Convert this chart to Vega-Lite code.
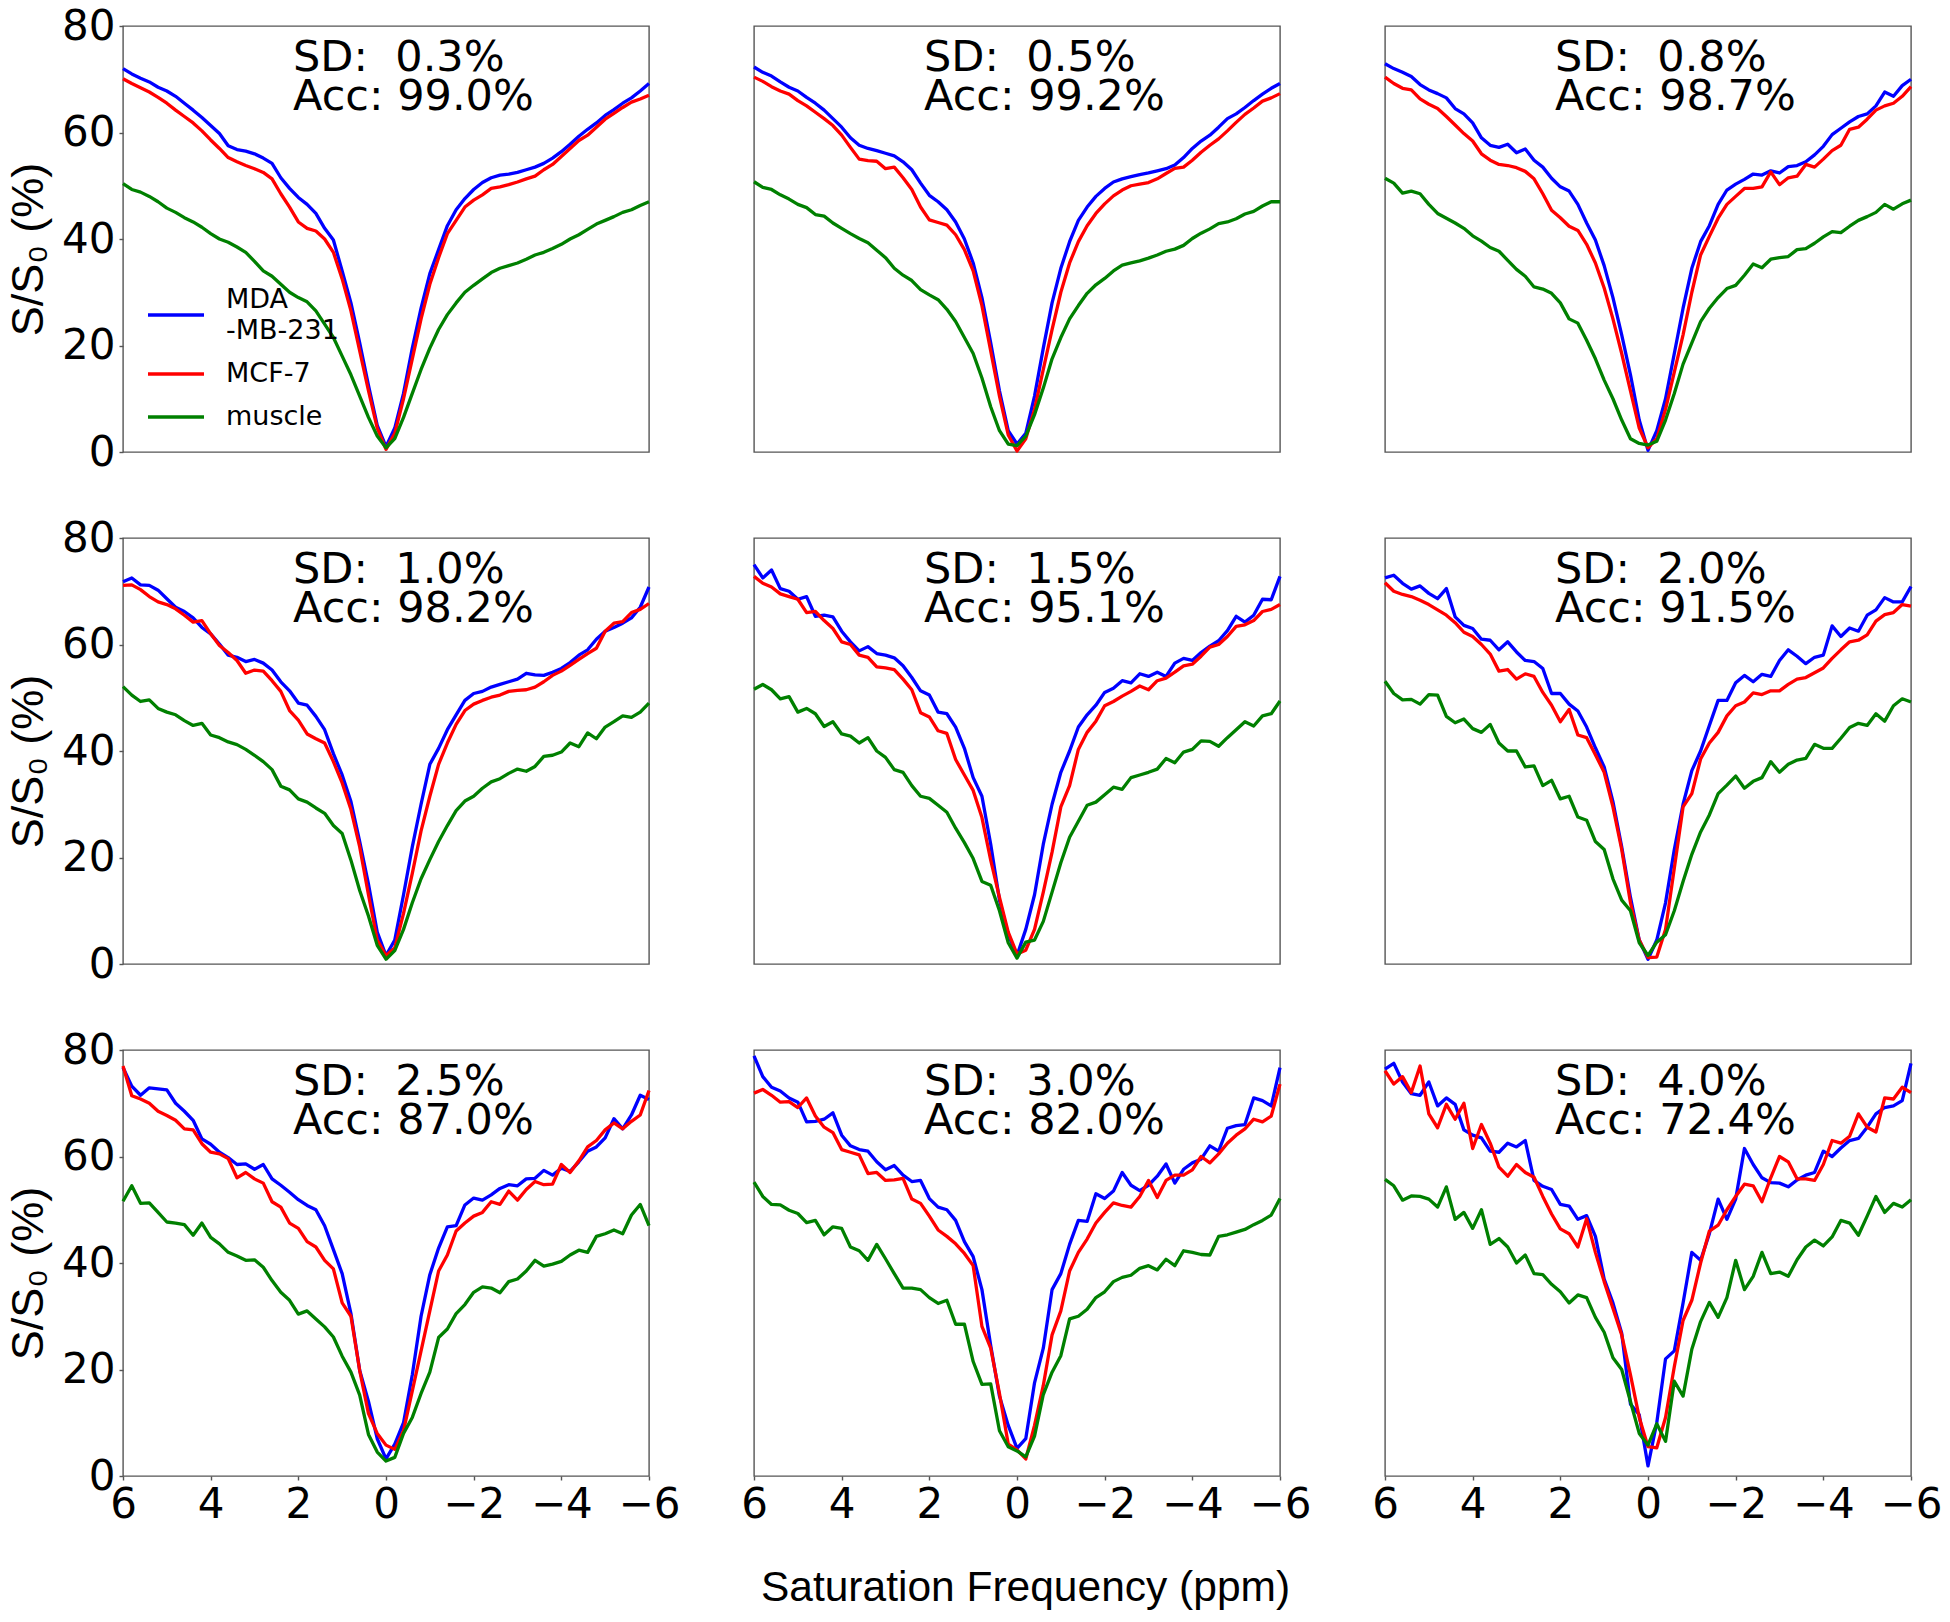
{
"$schema": "https://vega.github.io/schema/vega-lite/v6.json",
"background": "white",
"padding": {"left": 6, "top": 4, "right": 5, "bottom": 5},
"datasets": {
"curves": [
{"p":1,"x":[6,5.8,5.6,5.4,5.2,5,4.8,4.6,4.4,4.2,4,3.8,3.6,3.4,3.2,3,2.8,2.6,2.4,2.2,2,1.8,1.6,1.4,1.2,1,0.8,0.6,0.4,0.2,0,-0.2,-0.4,-0.6,-0.8,-1,-1.2,-1.4,-1.6,-1.8,-2,-2.2,-2.4,-2.6,-2.8,-3,-3.2,-3.4,-3.6,-3.8,-4,-4.2,-4.4,-4.6,-4.8,-5,-5.2,-5.4,-5.6,-5.8,-6],
"b":[72,71,70.2,69.5,68.5,67.8,66.8,65.5,64.2,62.8,61.3,59.8,57.5,56.8,56.5,56,55.2,54.2,51.5,49.5,47.8,46.5,44.8,42,39.8,34,28,20.5,12.5,5,1,4.5,11,19.5,27,33.5,38,42.5,45.5,47.6,49.3,50.6,51.5,52,52.2,52.5,53,53.5,54.2,55.2,56.4,57.8,59.3,60.6,61.8,63.2,64.3,65.5,66.5,67.8,69.2],
"r":[70.1,69.2,68.4,67.6,66.6,65.5,64.2,63,61.8,60.3,58.6,57,55.3,54.5,53.8,53.2,52.5,51.3,48.5,46,43.2,42,41.5,40,37.5,32.5,26.5,19,11.5,4.5,0.5,3.5,10,17.5,25,31.5,36.5,41,43.5,46,47.3,48.3,49.5,49.8,50.2,50.7,51.3,51.8,53,54,55.5,57,58.5,59.5,61,62.5,63.6,64.7,65.7,66.3,67],
"g":[50.4,49.3,48.8,48,47,45.8,45,44,43.2,42.2,41,40,39.4,38.5,37.5,35.8,34,33,31.5,30,29,28.2,26.5,24,21.5,18,14.5,10.5,6.5,3,0.8,2.5,6.5,11,15.5,19.5,23,25.8,28,30,31.3,32.5,33.7,34.5,35,35.5,36.2,37,37.5,38.2,39,40,40.8,41.8,42.8,43.5,44.2,45,45.5,46.3,47]},
{"p":2,"x":[6,5.8,5.6,5.4,5.2,5,4.8,4.6,4.4,4.2,4,3.8,3.6,3.4,3.2,3,2.8,2.6,2.4,2.2,2,1.8,1.6,1.4,1.2,1,0.8,0.6,0.4,0.2,0,-0.2,-0.4,-0.6,-0.8,-1,-1.2,-1.4,-1.6,-1.8,-2,-2.2,-2.4,-2.6,-2.8,-3,-3.2,-3.4,-3.6,-3.8,-4,-4.2,-4.4,-4.6,-4.8,-5,-5.2,-5.4,-5.6,-5.8,-6],
"b":[72.3,71.3,70.6,69.5,68.5,67.8,66.6,65.5,64.2,62.6,61,59,57.6,57,56.6,56.1,55.6,54.5,53,50.5,48.2,47,45.5,43.2,40,35.5,29,20.5,11.5,4,1.5,3.5,10.5,19.5,28,34.5,39.5,43.5,46,48,49.5,50.7,51.3,51.7,52.1,52.4,52.8,53.2,53.9,55.3,57,58.4,59.5,61,62.6,63.5,64.7,66,67.2,68.3,69.2],
"r":[70.4,69.6,68.6,67.8,67.2,66,65,63.8,62.6,61.3,59.5,57.2,55,54.7,54.6,53.2,53.5,51.5,49.3,46,43.6,43.1,42.6,40.8,38,34,27.5,19,10.5,3.2,0.2,2.5,8,15.5,23,30,35.5,39.5,42.5,44.8,46.6,48.1,49.2,50,50.3,50.6,51.3,52.3,53.25,53.5,54.8,56.3,57.6,58.8,60.3,61.9,63.4,64.6,65.9,66.5,67.3],
"g":[50.75,49.7,49.3,48.3,47.5,46.5,45.9,44.6,44.3,43,42,41,40.1,39.3,37.9,36.5,34.5,33.2,32.2,30.5,29.5,28.6,26.8,24.5,21.5,18.5,13.9,8.5,4,1.5,1.2,3,7,12,17.5,21.5,25,27.5,29.8,31.4,32.6,34,35.1,35.5,35.9,36.4,37,37.7,38.1,38.8,40.1,41.1,41.9,42.9,43.2,43.8,44.7,45.2,46.2,47,47]},
{"p":3,"x":[6,5.8,5.6,5.4,5.2,5,4.8,4.6,4.4,4.2,4,3.8,3.6,3.4,3.2,3,2.8,2.6,2.4,2.2,2,1.8,1.6,1.4,1.2,1,0.8,0.6,0.4,0.2,0,-0.2,-0.4,-0.6,-0.8,-1,-1.2,-1.4,-1.6,-1.8,-2,-2.2,-2.4,-2.6,-2.8,-3,-3.2,-3.4,-3.6,-3.8,-4,-4.2,-4.4,-4.6,-4.8,-5,-5.2,-5.4,-5.6,-5.8,-6],
"b":[72.9,72,71.3,70.5,69,68,67.3,66.5,64.5,63.5,61.8,59,57.6,57.2,57.8,56.2,56.9,54.8,53.5,51.4,49.8,49,46.5,43,39.8,35,29,22,14.5,6,0.3,4,10,18.5,27,34.5,39.5,42.5,46.5,49.2,50.3,51.2,52.2,52,52.8,52.4,53.6,53.8,54.5,55.8,57.4,59.6,60.8,62,63,63.5,65,67.6,66.8,68.8,70],
"r":[70.4,69.2,68.3,68,66.3,65.3,64.5,63,61.4,59.8,58.4,56,54.8,54,53.8,53.4,52.7,51.3,48.5,45.4,44,42.4,41.6,39,35.5,30.8,25,18.5,11.5,4.5,0.8,2.5,8,15,22,30,37,40.5,43.9,46.5,48,49.5,49.5,49.8,52.6,50.2,51.5,51.8,54,53.5,55,56.6,57.6,60.6,61,62.5,64.2,65,65.5,66.8,68.6],
"g":[51.4,50.5,48.6,49,48.5,46.5,44.8,43.9,43,42,40.6,39.6,38.4,37.7,36,34.3,33,31,30.6,29.8,28,25,24.2,21,17.5,13.5,10,6,2.5,1.6,1.3,2,6,11,16.5,20.5,24.5,27,29,30.7,31.3,33.2,35.3,34.6,36.2,36.5,36.7,38,38.2,39.2,40.4,41.4,41.2,42.4,43.5,44.2,45,46.5,45.6,46.6,47.3]},
{"p":4,"x":[6,5.8,5.6,5.4,5.2,5,4.8,4.6,4.4,4.2,4,3.8,3.6,3.4,3.2,3,2.8,2.6,2.4,2.2,2,1.8,1.6,1.4,1.2,1,0.8,0.6,0.4,0.2,0,-0.2,-0.4,-0.6,-0.8,-1,-1.2,-1.4,-1.6,-1.8,-2,-2.2,-2.4,-2.6,-2.8,-3,-3.2,-3.4,-3.6,-3.8,-4,-4.2,-4.4,-4.6,-4.8,-5,-5.2,-5.4,-5.6,-5.8,-6],
"b":[71.8,72.5,71.2,71.1,70.2,68.6,67,66.2,65,63.2,62,60.1,58,57.6,56.8,57.2,56.5,55.2,53,51.3,49,48.6,46.5,44,39.5,35.5,30.5,23,15,6,1.6,4.5,13,22,30,37.5,40.5,44,46.8,49.5,50.8,51.2,52,52.5,53,53.5,54.6,54.3,54.2,54.8,55.5,56.6,58,59,61,62.5,63.2,64,65,67,70.8],
"r":[71.1,71.2,70.3,69,68,67.5,66.7,65.5,64.2,64.5,62,59.8,58.5,57,54.6,55.2,55,53.2,51.2,47.6,45.8,43.2,42.3,41.5,38,34,29,22,13,4.5,1.6,3,9.5,17,25,31.5,37.5,41.5,45,47.6,48.8,49.5,50.1,50.5,51.2,51.4,51.5,52,53,54.2,55,56.1,57.2,58.3,59.3,62.5,64,64.3,66,66.6,67.7],
"g":[52.1,50.5,49.3,49.6,48,47.3,46.8,45.7,44.8,45.2,43,42.5,41.7,41.2,40.3,39.2,38,36.5,33.4,32.7,31,30.4,29.3,28.3,26,24.5,19.5,13.8,9,3.5,0.9,2.5,6.5,11.5,16,19.6,23,26,28.8,30.6,31.5,33,34.2,34.8,35.8,36.6,36.2,37.1,39,39.2,39.8,41.5,40.8,43.4,42.3,44.5,45.5,46.6,46.3,47.3,49]},
{"p":5,"x":[6,5.8,5.6,5.4,5.2,5,4.8,4.6,4.4,4.2,4,3.8,3.6,3.4,3.2,3,2.8,2.6,2.4,2.2,2,1.8,1.6,1.4,1.2,1,0.8,0.6,0.4,0.2,0,-0.2,-0.4,-0.6,-0.8,-1,-1.2,-1.4,-1.6,-1.8,-2,-2.2,-2.4,-2.6,-2.8,-3,-3.2,-3.4,-3.6,-3.8,-4,-4.2,-4.4,-4.6,-4.8,-5,-5.2,-5.4,-5.6,-5.8,-6],
"b":[75,72.5,74,70.5,70,68.5,69,65.3,65.5,65.2,62.5,60.5,58.8,59.6,58.3,58,57.5,56,53.8,51.3,50.5,47.3,47,44.5,40.5,35,31.5,22.5,12,5.5,1.6,6.5,13,22.5,30,36,40,44.5,46.8,48.6,51,51.8,53.2,52.8,54.5,54,54.8,54,56.5,57.4,57,58.5,59.7,60.7,62.6,65.3,64.2,65.5,68.5,68.4,72.8],
"r":[72.8,71.5,70.8,69.5,69,68.5,66,66.2,64.5,63,60.5,60,58,57.6,55.8,55.6,55.3,53.5,51.5,47.2,46.4,43.8,43.3,38.4,35.5,32.6,27.5,19.5,12.5,6,1.9,2.6,6.5,13.5,21,29.5,33.5,40.3,43.5,45.6,48.5,49.3,50.3,51.2,52.2,51.5,53.2,53.7,54.8,56,56.3,57.8,59.5,60,61.5,63.4,63.7,64.5,66.2,66.6,67.5],
"g":[51.6,52.5,51.5,49.8,50.2,47.3,48,47,44.6,45.5,43.2,42.8,41.5,42.5,40,38.8,36.5,36,33.5,31.5,31.1,29.8,28.5,25.5,22.8,19.8,15.5,14.8,10,4,1.1,4.1,4.5,8,13.5,19,23.8,26.8,29.8,30.4,31.8,33.2,32.8,35,35.5,36,36.6,38.6,37.8,39.8,40.3,41.9,41.8,40.9,42.5,44,45.5,44.7,46.6,47,49.4]},
{"p":6,"x":[6,5.8,5.6,5.4,5.2,5,4.8,4.6,4.4,4.2,4,3.8,3.6,3.4,3.2,3,2.8,2.6,2.4,2.2,2,1.8,1.6,1.4,1.2,1,0.8,0.6,0.4,0.2,0,-0.2,-0.4,-0.6,-0.8,-1,-1.2,-1.4,-1.6,-1.8,-2,-2.2,-2.4,-2.6,-2.8,-3,-3.2,-3.4,-3.6,-3.8,-4,-4.2,-4.4,-4.6,-4.8,-5,-5.2,-5.4,-5.6,-5.8,-6],
"b":[72.5,73,71.5,70.4,71,69.6,68.6,70.5,65.2,63.6,63,61,60.8,59,60.5,58.6,57,56.8,55.5,50.8,50.8,48.8,47.5,44.5,40.6,37,30.5,22,12.5,4.5,0.9,4.5,11.5,21.5,30,36.3,40,44.8,49.5,49.5,52.8,54.2,53,54.4,54,57,59,57.8,56.4,57.6,58,63.5,61.5,63.1,62.5,65.5,66.5,68.8,68,68,70.9],
"r":[71.6,70,69.4,69,68.3,67.5,66.5,65.5,64.1,62.3,61.5,60,58.2,55,55.3,53.5,54.5,54,51,48.6,45.5,47.8,43,42.5,39.3,36,29.5,21.5,11.5,4.5,1.2,1.3,6.5,18,29.5,32,38.5,41.5,43.5,46.6,48.5,49.2,50.9,50.6,51.3,51.3,52.5,53.5,53.8,54.7,55.6,57.4,59,60.5,60.8,61.8,64.4,65.6,66,67.5,67.2],
"g":[53.1,50.8,49.6,49.7,48.8,50.6,50.5,46.5,45.3,46,44.2,43.5,45,41.5,40,40,37,37.2,33.5,34.5,31,31.5,27.6,27,23,21.5,16,12,10,4,1.6,4.1,5.5,10,15.5,20.6,24.8,28,32,33.6,35.3,33,34.3,35,38,36,37.5,38.3,38.6,41.25,40.5,40.5,42.4,44.4,45.2,44.8,47,45.6,48.5,49.8,49.2]},
{"p":7,"x":[6,5.8,5.6,5.4,5.2,5,4.8,4.6,4.4,4.2,4,3.8,3.6,3.4,3.2,3,2.8,2.6,2.4,2.2,2,1.8,1.6,1.4,1.2,1,0.8,0.6,0.4,0.2,0,-0.2,-0.4,-0.6,-0.8,-1,-1.2,-1.4,-1.6,-1.8,-2,-2.2,-2.4,-2.6,-2.8,-3,-3.2,-3.4,-3.6,-3.8,-4,-4.2,-4.4,-4.6,-4.8,-5,-5.2,-5.4,-5.6,-5.8,-6],
"b":[76.7,73.2,71.5,72.9,72.7,72.5,70,68.5,66.8,63.3,62.3,60.8,59.8,58.5,58.6,57.6,58.5,55.8,54.6,53.3,51.9,50.8,50,47,42.5,38,30.5,19.8,14,7,3.2,6,10,19,30,37.8,42.8,46.8,47,50.9,52.2,51.8,52.8,54,54.7,54.5,55.8,55.9,57.4,56.5,57.8,57.2,59,61,61.8,63.5,67.1,65.2,67.8,71.5,70.7],
"r":[77,71.4,70.8,70,68.5,67.7,66.8,65.2,65,62.4,60.8,60.5,59.6,56,57,55.8,55,51.5,50.5,47.5,46.5,44,43,40.5,38.9,32.5,30,19.8,11.7,8,5.8,5,8.5,16,23.5,31,38.5,41.5,46,47.5,48.8,49.5,51.5,51,53.5,51.8,53.8,55.3,54.7,54.8,58.5,57,59.2,61.8,63,65,66.3,65.2,66.6,67.8,72.4],
"g":[51.6,54.5,51.2,51.3,49.5,47.7,47.5,47.2,45.2,47.5,44.8,43.6,42,41.3,40.5,40.6,39.2,36.7,34.5,33,30.4,31,29.5,28,26.1,22.5,19.5,15.2,7.8,4.5,2.8,3.5,8,11,15.5,19.5,26,27.6,30.5,32.2,34.5,35.5,35.3,34.4,36.5,37,38.5,40.5,39.4,39.8,40.3,41.5,42.4,42,45,45.5,46.2,45.5,49,51,47]},
{"p":8,"x":[6,5.8,5.6,5.4,5.2,5,4.8,4.6,4.4,4.2,4,3.8,3.6,3.4,3.2,3,2.8,2.6,2.4,2.2,2,1.8,1.6,1.4,1.2,1,0.8,0.6,0.4,0.2,0,-0.2,-0.4,-0.6,-0.8,-1,-1.2,-1.4,-1.6,-1.8,-2,-2.2,-2.4,-2.6,-2.8,-3,-3.2,-3.4,-3.6,-3.8,-4,-4.2,-4.4,-4.6,-4.8,-5,-5.2,-5.4,-5.6,-5.8,-6],
"b":[78.9,75,73,72.3,71,70.2,66.5,66.6,67,68.2,64,62,61.3,61,59,57.5,58.3,56.5,55.3,55.5,52.1,50.5,50,48,44,41.2,35,24.5,15,9.5,5.2,7,17.5,24,35,38,43.5,48,47.8,53,52.1,53.5,57,54.6,53.6,54.6,56.3,58.6,55,57.6,58.8,59.5,62,61,65.3,65.8,66,71,70.5,69.5,76.7],
"r":[71.9,72.6,71.5,70.2,70.3,69.2,71,67.6,65.5,64.5,61.3,60.8,60.3,56.8,57,55.5,55.6,55.9,52,51.2,48.8,46.2,45,43.6,41.8,39.5,28.1,24,15.5,6,4.9,3.2,9.5,17,26.5,31,38.5,42,44.5,47.5,49.5,51.3,50.8,50.5,52.5,55.5,52.3,55.5,56.5,56.5,57.5,60,58.8,60.5,62.5,64,65.2,67,66.5,67.6,73.6],
"g":[55.2,52.5,51,50.9,49.9,49.3,47.6,48,45.3,46.8,46.5,43,42.3,40.5,43.5,40.8,38,35.3,35.3,35,33.5,32.4,33,28.5,28.5,21.5,17.2,17.3,8.5,5.5,4.7,3.6,7.5,15.3,19.5,22.6,29.5,30,31.3,33.5,34.6,36.5,37.3,37.7,39,39.5,38.7,40.7,39.5,42.3,42,41.6,41.5,45,45.3,45.8,46.3,47.2,48,49,52.1]},
{"p":9,"x":[6,5.8,5.6,5.4,5.2,5,4.8,4.6,4.4,4.2,4,3.8,3.6,3.4,3.2,3,2.8,2.6,2.4,2.2,2,1.8,1.6,1.4,1.2,1,0.8,0.6,0.4,0.2,0,-0.2,-0.4,-0.6,-0.8,-1,-1.2,-1.4,-1.6,-1.8,-2,-2.2,-2.4,-2.6,-2.8,-3,-3.2,-3.4,-3.6,-3.8,-4,-4.2,-4.4,-4.6,-4.8,-5,-5.2,-5.4,-5.6,-5.8,-6],
"b":[76.4,77.5,74,71.8,71.5,74,69.5,71,69.8,65,64,63.5,61,60.8,62.5,61.8,63,55.5,54.4,53.8,51,50.7,48.2,48.9,45,37,32.5,26.8,13.5,11.5,1.9,10,22,23.5,32.5,42,40.5,45.5,52,48.2,52,61.5,58.5,56,55.1,55,54.3,55.6,56.5,57,61,60,61.6,63,63.4,65.5,68,69.2,69.5,70.5,77.5],
"r":[76.1,73.6,75,72,77,68,65.4,69.8,67,70,61.5,66,62.5,58,56.3,58.5,57,56.1,52.5,49.2,46.4,45.5,43,48.3,42,36.5,31.5,26.5,19,11,5.5,5.3,11,20.5,29.2,33,40,46,47.1,50,52.5,54.8,54.5,51.5,56,60,59,55.8,55.8,55.5,58.5,63,62.5,63.8,68,65.5,64.6,71,70.8,73,72],
"g":[55.7,54.5,51.8,52.6,52.5,52,50.5,54.3,48.2,49.5,46.5,50,43.5,44.6,43,40,41.5,38,37.8,36,34.6,32.5,34,33.5,29.8,27,22.2,20,14,8,5.8,9.8,6.5,17.8,15,23.8,29,32.6,29.8,33.5,40.5,35,37.5,42,38,38.3,37.5,40.6,43,44.3,43.2,44.9,48,47.5,45.2,48.8,52.5,49.5,51.2,50.5,51.9]}
],
"ann": [
{"p":1,"sd":"SD: \u00a00.3%","acc":"Acc: 99.0%"},
{"p":2,"sd":"SD: \u00a00.5%","acc":"Acc: 99.2%"},
{"p":3,"sd":"SD: \u00a00.8%","acc":"Acc: 98.7%"},
{"p":4,"sd":"SD: \u00a01.0%","acc":"Acc: 98.2%"},
{"p":5,"sd":"SD: \u00a01.5%","acc":"Acc: 95.1%"},
{"p":6,"sd":"SD: \u00a02.0%","acc":"Acc: 91.5%"},
{"p":7,"sd":"SD: \u00a02.5%","acc":"Acc: 87.0%"},
{"p":8,"sd":"SD: \u00a03.0%","acc":"Acc: 82.0%"},
{"p":9,"sd":"SD: \u00a04.0%","acc":"Acc: 72.4%"}
]
},
"columns": 3,
"spacing": {"row": 86, "column": 105},
"bounds": "flush",
"concat": [
{"width": 526, "height": 426, "layer": [
 {"data": {"name": "curves"}, "transform": [{"filter": "datum.p == 1"}, {"flatten": ["x","b","r","g"]}, {"fold": ["b","r","g"], "as": ["s","v"]}],
  "mark": {"type": "line", "strokeWidth": 3.3, "strokeJoin": "round"},
  "encoding": {
   "x": {"field": "x", "type": "quantitative", "scale": {"domain": [-6,6], "reverse": true, "nice": false, "zero": false}, "axis": null},
   "y": {"field": "v", "type": "quantitative", "scale": {"domain": [0,80], "nice": false, "zero": false}, "axis": {"values": [0,20,40,60,80], "title": "S/S\u2080 (%)", "titlePadding": 9.6, "titleY": 223, "labelPadding": 4}},
   "color": {"field": "s", "type": "nominal", "scale": {"domain": ["b","r","g"], "range": ["#0000ff","#ff0000","#008000"]},
     "legend": {"orient": "none", "legendX": 23, "legendY": 259, "title": null, "symbolType": "stroke", "symbolSize": 3136, "symbolStrokeWidth": 3.3, "labelOffset": 20, "rowPadding": 0, "labelLimit": 400,
       "labelExpr": "datum.label == 'b' ? ['MDA', '-MB-231'] : (datum.label == 'r' ? 'MCF-7' : 'muscle')",
       "encode": {"labels": {"update": {"lineHeight": {"value": 31}, "dy": {"signal": "datum.value == 'b' ? -15.5 : 0"}}}}}}
  }},
 {"data": {"name": "ann"}, "transform": [{"filter": "datum.p == 1"}], "mark": {"type": "text", "align": "left", "baseline": "alphabetic", "font": "DejaVu Sans", "fontSize": 43, "color": "#000"},
  "encoding": {"x": {"datum": 2.12, "type": "quantitative"}, "y": {"datum": 71.6, "type": "quantitative"}, "text": {"field": "sd", "type": "nominal"}}},
 {"data": {"name": "ann"}, "transform": [{"filter": "datum.p == 1"}], "mark": {"type": "text", "align": "left", "baseline": "alphabetic", "font": "DejaVu Sans", "fontSize": 43, "color": "#000"},
  "encoding": {"x": {"datum": 2.12, "type": "quantitative"}, "y": {"datum": 64.3, "type": "quantitative"}, "text": {"field": "acc", "type": "nominal"}}}
]},
{"width": 526, "height": 426, "layer": [
 {"data": {"name": "curves"}, "transform": [{"filter": "datum.p == 2"}, {"flatten": ["x","b","r","g"]}, {"fold": ["b","r","g"], "as": ["s","v"]}],
  "mark": {"type": "line", "strokeWidth": 3.3, "strokeJoin": "round"},
  "encoding": {
   "x": {"field": "x", "type": "quantitative", "scale": {"domain": [-6,6], "reverse": true, "nice": false, "zero": false}, "axis": null},
   "y": {"field": "v", "type": "quantitative", "scale": {"domain": [0,80], "nice": false, "zero": false}, "axis": null},
   "color": {"field": "s", "type": "nominal", "scale": {"domain": ["b","r","g"], "range": ["#0000ff","#ff0000","#008000"]}, "legend": null}
  }},
 {"data": {"name": "ann"}, "transform": [{"filter": "datum.p == 2"}], "mark": {"type": "text", "align": "left", "baseline": "alphabetic", "font": "DejaVu Sans", "fontSize": 43, "color": "#000"},
  "encoding": {"x": {"datum": 2.12, "type": "quantitative", "axis": null}, "y": {"datum": 71.6, "type": "quantitative", "axis": null}, "text": {"field": "sd", "type": "nominal"}}},
 {"data": {"name": "ann"}, "transform": [{"filter": "datum.p == 2"}], "mark": {"type": "text", "align": "left", "baseline": "alphabetic", "font": "DejaVu Sans", "fontSize": 43, "color": "#000"},
  "encoding": {"x": {"datum": 2.12, "type": "quantitative", "axis": null}, "y": {"datum": 64.3, "type": "quantitative", "axis": null}, "text": {"field": "acc", "type": "nominal"}}}
]},
{"width": 526, "height": 426, "layer": [
 {"data": {"name": "curves"}, "transform": [{"filter": "datum.p == 3"}, {"flatten": ["x","b","r","g"]}, {"fold": ["b","r","g"], "as": ["s","v"]}],
  "mark": {"type": "line", "strokeWidth": 3.3, "strokeJoin": "round"},
  "encoding": {
   "x": {"field": "x", "type": "quantitative", "scale": {"domain": [-6,6], "reverse": true, "nice": false, "zero": false}, "axis": null},
   "y": {"field": "v", "type": "quantitative", "scale": {"domain": [0,80], "nice": false, "zero": false}, "axis": null},
   "color": {"field": "s", "type": "nominal", "scale": {"domain": ["b","r","g"], "range": ["#0000ff","#ff0000","#008000"]}, "legend": null}
  }},
 {"data": {"name": "ann"}, "transform": [{"filter": "datum.p == 3"}], "mark": {"type": "text", "align": "left", "baseline": "alphabetic", "font": "DejaVu Sans", "fontSize": 43, "color": "#000"},
  "encoding": {"x": {"datum": 2.12, "type": "quantitative", "axis": null}, "y": {"datum": 71.6, "type": "quantitative", "axis": null}, "text": {"field": "sd", "type": "nominal"}}},
 {"data": {"name": "ann"}, "transform": [{"filter": "datum.p == 3"}], "mark": {"type": "text", "align": "left", "baseline": "alphabetic", "font": "DejaVu Sans", "fontSize": 43, "color": "#000"},
  "encoding": {"x": {"datum": 2.12, "type": "quantitative", "axis": null}, "y": {"datum": 64.3, "type": "quantitative", "axis": null}, "text": {"field": "acc", "type": "nominal"}}}
]},
{"width": 526, "height": 426, "layer": [
 {"data": {"name": "curves"}, "transform": [{"filter": "datum.p == 4"}, {"flatten": ["x","b","r","g"]}, {"fold": ["b","r","g"], "as": ["s","v"]}],
  "mark": {"type": "line", "strokeWidth": 3.3, "strokeJoin": "round"},
  "encoding": {
   "x": {"field": "x", "type": "quantitative", "scale": {"domain": [-6,6], "reverse": true, "nice": false, "zero": false}, "axis": null},
   "y": {"field": "v", "type": "quantitative", "scale": {"domain": [0,80], "nice": false, "zero": false}, "axis": {"values": [0,20,40,60,80], "title": "S/S\u2080 (%)", "titlePadding": 9.6, "titleY": 223, "labelPadding": 4}},
   "color": {"field": "s", "type": "nominal", "scale": {"domain": ["b","r","g"], "range": ["#0000ff","#ff0000","#008000"]}, "legend": null}
  }},
 {"data": {"name": "ann"}, "transform": [{"filter": "datum.p == 4"}], "mark": {"type": "text", "align": "left", "baseline": "alphabetic", "font": "DejaVu Sans", "fontSize": 43, "color": "#000"},
  "encoding": {"x": {"datum": 2.12, "type": "quantitative"}, "y": {"datum": 71.6, "type": "quantitative"}, "text": {"field": "sd", "type": "nominal"}}},
 {"data": {"name": "ann"}, "transform": [{"filter": "datum.p == 4"}], "mark": {"type": "text", "align": "left", "baseline": "alphabetic", "font": "DejaVu Sans", "fontSize": 43, "color": "#000"},
  "encoding": {"x": {"datum": 2.12, "type": "quantitative"}, "y": {"datum": 64.3, "type": "quantitative"}, "text": {"field": "acc", "type": "nominal"}}}
]},
{"width": 526, "height": 426, "layer": [
 {"data": {"name": "curves"}, "transform": [{"filter": "datum.p == 5"}, {"flatten": ["x","b","r","g"]}, {"fold": ["b","r","g"], "as": ["s","v"]}],
  "mark": {"type": "line", "strokeWidth": 3.3, "strokeJoin": "round"},
  "encoding": {
   "x": {"field": "x", "type": "quantitative", "scale": {"domain": [-6,6], "reverse": true, "nice": false, "zero": false}, "axis": null},
   "y": {"field": "v", "type": "quantitative", "scale": {"domain": [0,80], "nice": false, "zero": false}, "axis": null},
   "color": {"field": "s", "type": "nominal", "scale": {"domain": ["b","r","g"], "range": ["#0000ff","#ff0000","#008000"]}, "legend": null}
  }},
 {"data": {"name": "ann"}, "transform": [{"filter": "datum.p == 5"}], "mark": {"type": "text", "align": "left", "baseline": "alphabetic", "font": "DejaVu Sans", "fontSize": 43, "color": "#000"},
  "encoding": {"x": {"datum": 2.12, "type": "quantitative", "axis": null}, "y": {"datum": 71.6, "type": "quantitative", "axis": null}, "text": {"field": "sd", "type": "nominal"}}},
 {"data": {"name": "ann"}, "transform": [{"filter": "datum.p == 5"}], "mark": {"type": "text", "align": "left", "baseline": "alphabetic", "font": "DejaVu Sans", "fontSize": 43, "color": "#000"},
  "encoding": {"x": {"datum": 2.12, "type": "quantitative", "axis": null}, "y": {"datum": 64.3, "type": "quantitative", "axis": null}, "text": {"field": "acc", "type": "nominal"}}}
]},
{"width": 526, "height": 426, "layer": [
 {"data": {"name": "curves"}, "transform": [{"filter": "datum.p == 6"}, {"flatten": ["x","b","r","g"]}, {"fold": ["b","r","g"], "as": ["s","v"]}],
  "mark": {"type": "line", "strokeWidth": 3.3, "strokeJoin": "round"},
  "encoding": {
   "x": {"field": "x", "type": "quantitative", "scale": {"domain": [-6,6], "reverse": true, "nice": false, "zero": false}, "axis": null},
   "y": {"field": "v", "type": "quantitative", "scale": {"domain": [0,80], "nice": false, "zero": false}, "axis": null},
   "color": {"field": "s", "type": "nominal", "scale": {"domain": ["b","r","g"], "range": ["#0000ff","#ff0000","#008000"]}, "legend": null}
  }},
 {"data": {"name": "ann"}, "transform": [{"filter": "datum.p == 6"}], "mark": {"type": "text", "align": "left", "baseline": "alphabetic", "font": "DejaVu Sans", "fontSize": 43, "color": "#000"},
  "encoding": {"x": {"datum": 2.12, "type": "quantitative", "axis": null}, "y": {"datum": 71.6, "type": "quantitative", "axis": null}, "text": {"field": "sd", "type": "nominal"}}},
 {"data": {"name": "ann"}, "transform": [{"filter": "datum.p == 6"}], "mark": {"type": "text", "align": "left", "baseline": "alphabetic", "font": "DejaVu Sans", "fontSize": 43, "color": "#000"},
  "encoding": {"x": {"datum": 2.12, "type": "quantitative", "axis": null}, "y": {"datum": 64.3, "type": "quantitative", "axis": null}, "text": {"field": "acc", "type": "nominal"}}}
]},
{"width": 526, "height": 426, "layer": [
 {"data": {"name": "curves"}, "transform": [{"filter": "datum.p == 7"}, {"flatten": ["x","b","r","g"]}, {"fold": ["b","r","g"], "as": ["s","v"]}],
  "mark": {"type": "line", "strokeWidth": 3.3, "strokeJoin": "round"},
  "encoding": {
   "x": {"field": "x", "type": "quantitative", "scale": {"domain": [-6,6], "reverse": true, "nice": false, "zero": false}, "axis": {"values": [6,4,2,0,-2,-4,-6], "title": null, "labelPadding": 4}},
   "y": {"field": "v", "type": "quantitative", "scale": {"domain": [0,80], "nice": false, "zero": false}, "axis": {"values": [0,20,40,60,80], "title": "S/S\u2080 (%)", "titlePadding": 9.6, "titleY": 223, "labelPadding": 4}},
   "color": {"field": "s", "type": "nominal", "scale": {"domain": ["b","r","g"], "range": ["#0000ff","#ff0000","#008000"]}, "legend": null}
  }},
 {"data": {"name": "ann"}, "transform": [{"filter": "datum.p == 7"}], "mark": {"type": "text", "align": "left", "baseline": "alphabetic", "font": "DejaVu Sans", "fontSize": 43, "color": "#000"},
  "encoding": {"x": {"datum": 2.12, "type": "quantitative"}, "y": {"datum": 71.6, "type": "quantitative"}, "text": {"field": "sd", "type": "nominal"}}},
 {"data": {"name": "ann"}, "transform": [{"filter": "datum.p == 7"}], "mark": {"type": "text", "align": "left", "baseline": "alphabetic", "font": "DejaVu Sans", "fontSize": 43, "color": "#000"},
  "encoding": {"x": {"datum": 2.12, "type": "quantitative"}, "y": {"datum": 64.3, "type": "quantitative"}, "text": {"field": "acc", "type": "nominal"}}}
]},
{"width": 526, "height": 426, "layer": [
 {"data": {"name": "curves"}, "transform": [{"filter": "datum.p == 8"}, {"flatten": ["x","b","r","g"]}, {"fold": ["b","r","g"], "as": ["s","v"]}],
  "mark": {"type": "line", "strokeWidth": 3.3, "strokeJoin": "round"},
  "encoding": {
   "x": {"field": "x", "type": "quantitative", "scale": {"domain": [-6,6], "reverse": true, "nice": false, "zero": false}, "axis": {"values": [6,4,2,0,-2,-4,-6], "title": "Saturation Frequency (ppm)", "titleFontSize": 42.5, "titlePadding": 41, "titleX": 271, "labelPadding": 4}},
   "y": {"field": "v", "type": "quantitative", "scale": {"domain": [0,80], "nice": false, "zero": false}, "axis": null},
   "color": {"field": "s", "type": "nominal", "scale": {"domain": ["b","r","g"], "range": ["#0000ff","#ff0000","#008000"]}, "legend": null}
  }},
 {"data": {"name": "ann"}, "transform": [{"filter": "datum.p == 8"}], "mark": {"type": "text", "align": "left", "baseline": "alphabetic", "font": "DejaVu Sans", "fontSize": 43, "color": "#000"},
  "encoding": {"x": {"datum": 2.12, "type": "quantitative"}, "y": {"datum": 71.6, "type": "quantitative", "axis": null}, "text": {"field": "sd", "type": "nominal"}}},
 {"data": {"name": "ann"}, "transform": [{"filter": "datum.p == 8"}], "mark": {"type": "text", "align": "left", "baseline": "alphabetic", "font": "DejaVu Sans", "fontSize": 43, "color": "#000"},
  "encoding": {"x": {"datum": 2.12, "type": "quantitative"}, "y": {"datum": 64.3, "type": "quantitative", "axis": null}, "text": {"field": "acc", "type": "nominal"}}}
]},
{"width": 526, "height": 426, "layer": [
 {"data": {"name": "curves"}, "transform": [{"filter": "datum.p == 9"}, {"flatten": ["x","b","r","g"]}, {"fold": ["b","r","g"], "as": ["s","v"]}],
  "mark": {"type": "line", "strokeWidth": 3.3, "strokeJoin": "round"},
  "encoding": {
   "x": {"field": "x", "type": "quantitative", "scale": {"domain": [-6,6], "reverse": true, "nice": false, "zero": false}, "axis": {"values": [6,4,2,0,-2,-4,-6], "title": null, "labelPadding": 4}},
   "y": {"field": "v", "type": "quantitative", "scale": {"domain": [0,80], "nice": false, "zero": false}, "axis": null},
   "color": {"field": "s", "type": "nominal", "scale": {"domain": ["b","r","g"], "range": ["#0000ff","#ff0000","#008000"]}, "legend": null}
  }},
 {"data": {"name": "ann"}, "transform": [{"filter": "datum.p == 9"}], "mark": {"type": "text", "align": "left", "baseline": "alphabetic", "font": "DejaVu Sans", "fontSize": 43, "color": "#000"},
  "encoding": {"x": {"datum": 2.12, "type": "quantitative"}, "y": {"datum": 71.6, "type": "quantitative", "axis": null}, "text": {"field": "sd", "type": "nominal"}}},
 {"data": {"name": "ann"}, "transform": [{"filter": "datum.p == 9"}], "mark": {"type": "text", "align": "left", "baseline": "alphabetic", "font": "DejaVu Sans", "fontSize": 43, "color": "#000"},
  "encoding": {"x": {"datum": 2.12, "type": "quantitative"}, "y": {"datum": 64.3, "type": "quantitative", "axis": null}, "text": {"field": "acc", "type": "nominal"}}}
]}
],
"config": {
 "view": {"stroke": "#555", "strokeWidth": 1.4},
 "axis": {"grid": false, "domain": false, "labelFont": "DejaVu Sans", "labelFontSize": 42, "labelColor": "#000", "tickColor": "#555", "tickWidth": 1.4, "tickSize": 4, "labelFlush": false, "labelOverlap": false, "labelBound": false, "titleFont": "Liberation Sans", "titleFontSize": 45, "titleFontWeight": "normal", "titleColor": "#000"},
 "legend": {"labelFont": "DejaVu Sans", "labelFontSize": 27, "labelColor": "#000"}
}
}
